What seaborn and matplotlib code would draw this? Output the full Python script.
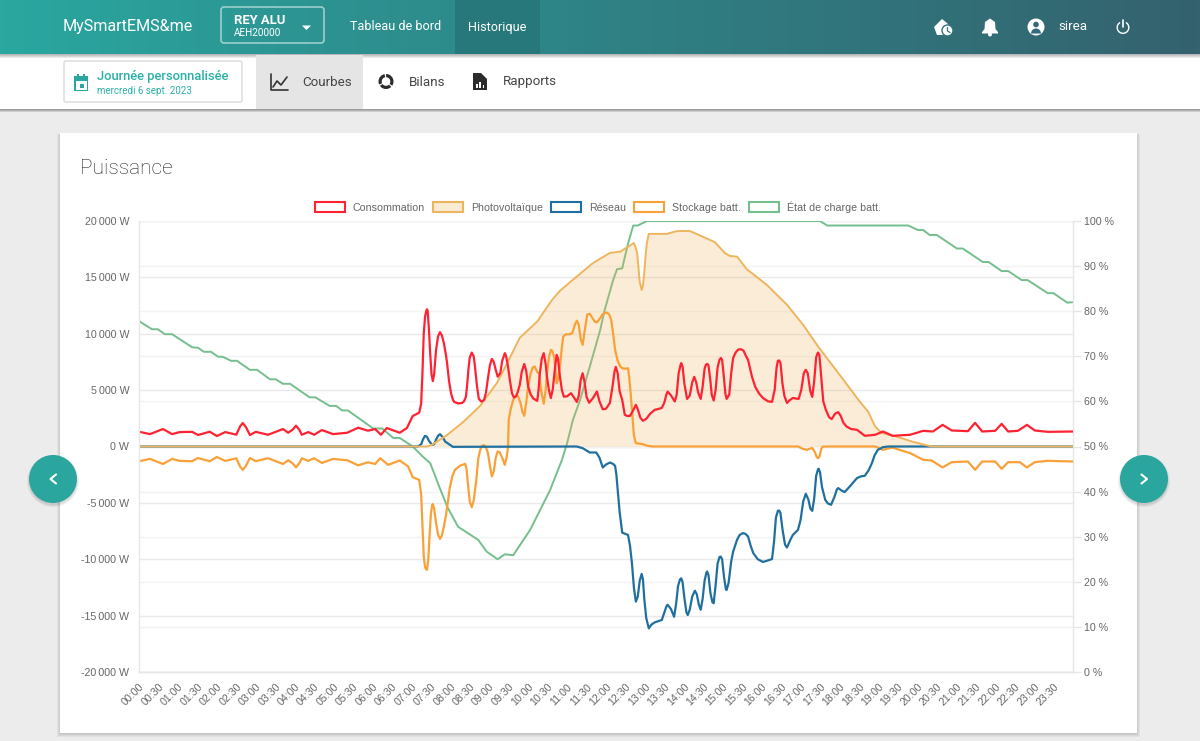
import numpy as np
import matplotlib
matplotlib.use('Agg')
import matplotlib.pyplot as plt
from matplotlib.patches import Rectangle, FancyBboxPatch, Circle, Polygon, Wedge, Patch
import seaborn as sns

# minutes since midnight / watts
conso_t = [0,17,37,51,63,82,91,109,120,133,150,156,160,165,171,180,199,222,230,237,242,247,251,261,270,282,299,321,338,353,364,373,382,402,413,422,432,435,437,439,441,443,444,445,447,449,451,453,455,458,461,464,467,470,473,475,478,481,484,486,492,498,501,504,506,508,510,513,516,518,521,524,528,532,535,538,541,544,547,550,553,557,560,564,566,569,572,575,578,581,584,587,590,594,597,600,604,608,614,616,618,621,624,627,629,632,635,638,641,644,646,649,652,655,660,666,670,675,678,681,684,687,690,694,700,706,710,715,720,726,730,733,735,738,741,745,749,753,757,761,766,769,773,777,782,788,795,799,806,810,813,815,820,826,829,832,835,836,838,841,845,849,853,856,859,862,866,869,872,874,876,878,881,883,886,889,892,895,897,899,902,904,906,910,913,916,920,924,928,932,936,939,945,950,956,962,970,976,980,983,985,987,989,992,995,999,1003,1008,1017,1021,1025,1028,1031,1035,1038,1041,1044,1046,1047,1049,1052,1055,1059,1064,1068,1073,1078,1082,1086,1091,1098,1107,1119,1135,1147,1162,1189,1209,1224,1239,1253,1278,1289,1300,1320,1330,1340,1355,1369,1381,1401,1440]
conso_w = [1310,1100,1550,1100,1280,1300,1020,1310,930,1280,1050,1800,2080,1700,1020,1300,1040,1550,1220,1500,1850,1500,1040,1280,1040,1460,1100,1220,1670,1400,1550,1040,1640,1220,1640,2700,3000,3800,6500,10000,11500,12050,12170,12050,10400,8200,6400,5800,6400,8560,9750,10140,9850,9180,8200,7400,5800,4750,4150,3950,3820,3860,4000,4400,5500,6900,7900,8330,8000,7080,5400,4210,3980,4130,4800,6060,7200,7770,7500,6800,6190,6500,7600,8280,8000,7060,5800,4730,4350,4420,4850,5450,6600,7320,6700,5310,4600,4250,4050,5000,6500,7800,8280,7300,6190,5000,4300,5100,6790,8130,7800,6190,5000,4420,4450,4730,4400,3950,4500,5900,6500,5700,4400,3880,4300,4880,4000,3300,3350,3860,5300,6600,7060,6500,4900,4130,2810,2700,2720,3100,3700,3300,2550,2280,2450,2900,3250,3300,3420,3900,4600,4870,4550,3990,4600,6500,7250,7400,7100,5500,4220,4500,5700,6180,5700,4800,4220,5300,6900,7250,7330,7200,5800,4600,4080,5000,7000,7700,7850,7700,6000,4700,4220,4600,6500,7850,8350,8600,8630,8500,8000,7690,6200,5300,4700,4300,4000,3960,5000,7000,7600,7630,7400,5600,4500,3860,4100,4300,4220,5000,6500,6800,6500,4900,4400,5800,7900,8250,8330,8100,6000,4000,3250,2600,2430,2900,3050,2700,2100,1770,1550,1480,950,1040,1330,950,1040,1390,1330,1920,1420,1360,2100,1330,1390,2010,1330,1390,1920,1420,1300,1330]

pv_t = [0,445,453,475,499,526,552,569,587,614,637,649,675,700,726,742,763,766,768,770,772,775,777,779,781,783,786,814,829,849,869,888,903,911,922,937,968,999,1024,1047,1081,1111,1124,1135,1145,1169,1193,1222,1440]
pv_w = [0,0,200,1020,2130,3610,5650,7540,9640,11090,13010,13810,15080,16270,17170,17280,18050,17600,17170,15900,14600,13880,14300,15390,16900,18050,18860,18860,19100,19120,18610,18120,17170,16900,16840,15730,14330,12570,10790,8870,6300,4000,3100,1770,1200,860,420,0,0]

reseau_t = [0,430,435,438,441,444,447,452,455,458,461,464,468,472,484,664,675,684,695,705,710,715,720,726,731,734,736,738,741,745,750,754,757,760,763,766,769,772,775,777,779,782,786,790,795,799,806,810,813,815,820,825,828,831,834,836,838,841,844,846,849,853,857,860,863,866,869,872,875,876,878,881,884,886,889,892,895,897,899,902,905,906,909,913,916,922,926,931,935,939,943,947,954,962,970,976,979,982,985,987,989,992,996,999,1004,1008,1016,1020,1024,1028,1032,1035,1038,1041,1044,1047,1048,1050,1053,1058,1062,1067,1072,1076,1078,1083,1088,1095,1107,1113,1119,1125,1130,1134,1139,1147,1155,1440]
reseau_w = [0,0,200,650,950,850,500,150,200,600,950,1090,850,440,-30,0,0,-150,-530,-530,-1000,-1860,-1600,-1420,-1550,-1710,-2500,-3840,-5800,-7640,-7750,-7850,-8800,-10350,-12500,-13760,-13300,-11900,-11300,-11800,-13500,-15200,-16130,-15800,-15600,-15520,-15390,-14700,-14200,-14040,-14400,-15100,-14000,-12400,-11800,-11690,-12000,-13500,-14700,-14950,-14500,-13300,-12790,-13100,-14000,-14480,-13500,-11900,-11150,-11090,-11400,-13000,-13800,-13900,-12300,-10400,-9800,-9770,-10000,-11600,-12700,-12720,-12100,-10200,-9330,-8280,-7850,-7680,-7750,-7980,-8800,-9450,-10000,-10240,-10100,-9980,-8500,-6300,-5700,-5680,-5900,-7300,-8700,-8960,-8300,-7850,-7390,-6500,-4900,-4190,-4700,-5500,-5710,-4600,-2600,-2000,-1980,-2300,-3600,-4730,-5050,-5170,-4500,-3800,-3690,-3900,-4040,-3600,-2800,-2650,-2600,-2100,-1470,-800,-300,-60,0,0]

stock_t = [0,17,37,51,63,82,91,109,120,133,150,156,160,165,171,180,199,222,230,237,242,247,251,261,270,282,299,321,338,353,364,372,384,402,415,422,432,435,437,439,441,443,444,446,448,450,452,453,455,458,461,464,467,470,473,476,479,483,487,495,503,505,507,510,513,516,520,523,526,529,532,535,538,541,544,547,550,553,556,560,564,567,569,570,573,577,580,584,588,591,594,597,600,604,607,610,614,617,620,624,627,629,632,635,637,640,642,644,646,649,652,654,658,663,668,672,675,678,681,684,687,691,695,699,703,706,710,715,721,725,728,731,734,738,742,745,750,754,756,758,761,763,766,771,777,784,791,1016,1023,1030,1034,1038,1042,1045,1047,1049,1052,1054,1060,1135,1147,1161,1189,1209,1222,1239,1253,1278,1289,1300,1320,1330,1340,1358,1369,1381,1401,1440]
stock_w = [-1310,-1100,-1550,-1100,-1280,-1300,-1020,-1310,-930,-1280,-1050,-1800,-2080,-1700,-1020,-1300,-1040,-1550,-1220,-1500,-1850,-1500,-1040,-1280,-1040,-1460,-1100,-1220,-1670,-1400,-1550,-1040,-1630,-1240,-1770,-2730,-2960,-4200,-7000,-9700,-10700,-10900,-10930,-10000,-7900,-6000,-5200,-5100,-5500,-6790,-7800,-8190,-7900,-7110,-6200,-5010,-3700,-2660,-2070,-1700,-1540,-2000,-3260,-4900,-5390,-4800,-2960,-1100,-300,50,130,-100,-590,-1700,-2660,-2200,-1000,-440,-500,-1000,-1630,-900,0,2370,3300,4140,4450,4490,3900,3100,2720,3900,5320,6500,7000,7100,6600,6500,5000,3790,5000,6500,7900,8570,8500,7970,6900,5600,5900,7100,8800,9750,9950,9950,10040,10800,11160,10800,9500,9020,10200,11700,11770,11400,11050,11000,11300,11750,11880,11700,11240,10000,8570,7600,7100,6940,6900,6940,6000,4730,2500,1000,300,250,200,60,0,0,-200,-300,-200,-130,-500,-950,-1040,-900,-200,-20,0,0,-300,-90,-590,-1180,-1240,-1860,-1390,-1330,-2070,-1330,-1330,-1980,-1390,-1390,-1860,-1390,-1270,-1330]

soc_t = [0,20,29,40,51,82,91,100,111,122,129,142,151,171,182,202,211,222,233,263,272,294,304,313,322,361,375,392,402,422,438,449,464,476,492,523,536,553,564,577,603,634,652,660,669,680,695,711,718,731,737,745,754,762,769,783,1050,1061,1186,1201,1209,1219,1230,1261,1270,1301,1310,1330,1340,1361,1370,1401,1410,1431,1440]
soc_pct = [77.8,76,76,74.9,74.9,72,71.9,71,71,69.9,69.9,69,69,67,67,64.9,64.9,63.9,63.9,60.9,60.9,59,59,58,58,54,54,51.9,51.9,50,47.7,46.3,40.7,36.4,32.2,29.3,26.7,25,26.1,25.9,31.5,40.4,47,50.7,55.9,60.3,67.7,75.8,80.3,86.9,89.3,89.5,95,99,99,100,100,99,99,98,98,96.9,96.9,93.9,93.9,90.9,90.9,88.9,88.9,86.9,86.9,84,84,81.9,82]

left_ticks = [-20000,-15000,-10000,-5000,0,5000,10000,15000,20000]
left_labels = ['-20\u2009000 W','-15\u2009000 W','-10\u2009000 W','-5\u2009000 W','0 W','5\u2009000 W','10\u2009000 W','15\u2009000 W','20\u2009000 W']
right_ticks = [0,10,20,30,40,50,60,70,80,90,100]
right_labels = ['%d %%' % v for v in right_ticks]
time_ticks = list(range(0, 1440, 30))
time_labels = ['%02d:%02d' % (m // 60, m % 60) for m in time_ticks]

RED = '#FF2233'
PV = '#EDB55E'
BLUE = '#20709F'
ORANGE = '#F9A138'
GREEN = '#75BE8D'
TEAL = '#2BA69F'
GREY = '#666666'

sns.set_theme(style='white')
plt.rcParams['font.family'] = ['Liberation Sans', 'DejaVu Sans']

W, H = 1200, 741
fig = plt.figure(figsize=(12, 7.41), dpi=100, facecolor='#ECECEC')

# page furniture, drawn in pixel coordinates
bg = fig.add_axes([0, 0, 1, 1], zorder=0)
bg.set_axis_off()
c0 = np.array(matplotlib.colors.to_rgb('#2AA7A0'))
c1 = np.array(matplotlib.colors.to_rgb('#2F8285'))
c2 = np.array(matplotlib.colors.to_rgb('#34626E'))
xs = np.linspace(0, 1, 300)[:, None]
grad = np.where(xs < 0.5, c0 + (c1 - c0) * xs * 2, c1 + (c2 - c1) * (xs - 0.5) * 2)
bg.imshow(grad[None, :, :].reshape(1, 300, 3), extent=[0, W, 54, 0], aspect='auto', zorder=3)
bg.set_xlim(0, W)
bg.set_ylim(H, 0)


def rect(x0, y0, x1, y1, color, z=2, alpha=None):
    bg.add_patch(Rectangle((x0, y0), x1 - x0, y1 - y0, fc=color, ec='none', zorder=z, alpha=alpha))


def label(x, y, s, size, color='white', weight='normal', family='Roboto', ha='left'):
    bg.text(x, y, s, fontsize=size, color=color, fontweight=weight, family=family, ha=ha, va='center', zorder=8)


# header + sub header with their shadows
for i in range(4):
    rect(0, 54, W, 54 + i + 1, '#000000', z=2.5, alpha=0.08)
rect(0, 54, W, 109, 'white', z=2)
for i in range(3):
    rect(0, 109, W, 109 + i + 1, '#000000', z=1.5, alpha=0.13)
rect(455, 0, 540, 54, '#27787A', z=4)
rect(256, 55, 363, 109, '#E5E5E5', z=3)

# card
for i in range(4):
    bg.add_patch(Rectangle((60 - i, 134), 1077 + 2 * i, 600 + i, fc='#000000', ec='none', alpha=0.045, zorder=1))
rect(60, 133, 1137, 733, 'white', z=1.2)

# header content
label(63, 26, 'MySmartEMS&me', 11.6)
bg.add_patch(FancyBboxPatch((221, 7), 103, 36, boxstyle='round,pad=0,rounding_size=3', fc='none', ec='#9CCFCD', lw=1.2, zorder=5))
label(234, 20, 'REY ALU', 9.4, weight='bold')
label(234, 32.5, 'AEH20000', 7.2)
bg.add_patch(Polygon([[302, 25.5], [311, 25.5], [306.5, 30]], fc='white', ec='none', zorder=6))
label(350, 27, 'Tableau de bord', 9.1)
label(468, 27, 'Historique', 9.1)
label(1058, 27, 'sirea', 9.6)

# home with clock
bg.add_patch(Polygon([[934, 27], [942, 19], [947, 23], [950, 27], [948, 35], [937, 35]], fc='white', ec='none', zorder=6))
bg.add_patch(Circle((947.5, 30.5), 5.5, fc='white', ec='#34727A', lw=1, zorder=7))
bg.plot([947.5, 947.5, 950], [27.5, 31, 32.5], color='#34727A', lw=0.9, zorder=8)
# bell
bg.add_patch(Polygon([[982, 32], [984.5, 29], [985, 22], [990, 18.5], [995, 22], [995.5, 29], [998, 32], [998, 33.5], [982, 33.5]], fc='white', ec='none', zorder=6))
bg.add_patch(Circle((990, 34.5), 2, fc='white', ec='none', zorder=6))
# user
bg.add_patch(Circle((1036, 27), 8.5, fc='white', ec='none', zorder=6))
bg.add_patch(Circle((1036, 24.5), 2.8, fc='#33697A', ec='none', zorder=7))
bg.add_patch(Wedge((1036, 33.5), 5, 180, 360, fc='#33697A', ec='none', zorder=7))
# power
bg.add_patch(Wedge((1123, 27.5), 6.5, 300, 240, width=1.4, fc='white', ec='none', zorder=6))
bg.plot([1123, 1123], [20, 27], color='white', lw=1.2, zorder=7)

# date picker
bg.add_patch(FancyBboxPatch((64, 61), 178, 41, boxstyle='round,pad=0,rounding_size=2', fc='white', ec='#E0E0E0', lw=1.2, zorder=3))
rect(74, 76, 88, 91, TEAL, z=4)
rect(75.5, 81, 86.5, 89.5, 'white', z=4.2)
rect(80, 84, 84, 88, TEAL, z=4.3)
rect(77, 74, 79, 77, TEAL, z=4)
rect(83, 74, 85, 77, TEAL, z=4)
label(97, 76.5, 'Journée personnalisée', 9.4, color='#2BB0A8', weight='medium')
label(97, 91, 'mercredi 6 sept. 2023', 7.0, color='#2BB0A8')

# sub tabs
bg.plot([271, 271, 288], [74, 90, 90], color='#333333', lw=1.2, zorder=5)
bg.plot([273, 277, 281, 287], [87, 81, 85, 77], color='#333333', lw=1.2, zorder=5)
label(302, 82, 'Courbes', 9.6, color='#444444')
bg.add_patch(Wedge((386, 81.5), 7.5, 0, 360, width=3.2, fc='#2C2C2C', ec='none', zorder=5))
for a in (40, 150, 265):
    bg.add_patch(Wedge((386, 81.5), 9, a - 6, a + 6, fc='white', ec='none', zorder=6))
label(409, 82, 'Bilans', 9.6, color='#444444')
bg.add_patch(Polygon([[473, 73], [481, 73], [487, 79], [487, 90], [473, 90]], fc='#2C2C2C', ec='none', zorder=5))
rect(476, 84, 477.5, 88, 'white', z=6)
rect(479.3, 82, 480.8, 88, 'white', z=6)
rect(482.6, 85, 484.1, 88, 'white', z=6)
label(503, 82, 'Rapports', 9.6, color='#444444')

label(80, 168, 'Puissance', 15, color='#222222', weight='light')

# round nav buttons
for cx, a, b in ((53, 56, 50.5), (1144, 1141.5, 1147)):
    for i in range(3):
        bg.add_patch(Circle((cx, 481), 24 + i, fc='#000000', ec='none', alpha=0.05, zorder=9))
    bg.add_patch(Circle((cx, 479), 24, fc=TEAL, ec='none', zorder=10))
    bg.plot([a, b, a], [474.5, 479, 483.5], color='white', lw=1.5, zorder=11)

# chart: grid axes at the back, then % axes, then watt axes on top
box = [139 / W, 1 - 672 / H, (1073 - 139) / W, (672 - 221) / H]
ax0 = fig.add_axes(box, zorder=1)
ax2 = fig.add_axes(box, zorder=2)
ax = fig.add_axes(box, zorder=3)
ax0.patch.set_alpha(0)
ax.patch.set_alpha(0)
ax2.patch.set_alpha(0)

ax0.set_xlim(0, 1440)
ax0.set_ylim(-20000, 20000)
ax0.set_yticks(left_ticks)
ax0.set_xticks([])
ax0.tick_params(axis='y', length=0, labelleft=False)
ax0.grid(axis='y', color='#E9E9E9', lw=1)
for side in ax0.spines:
    ax0.spines[side].set_visible(False)

sns.lineplot(x=soc_t, y=soc_pct, ax=ax2, color=GREEN, lw=1.4, estimator=None, sort=False)
ax.fill_between(pv_t, pv_w, 0, color=PV, alpha=0.25, lw=0)
sns.lineplot(x=stock_t, y=stock_w, ax=ax, color=ORANGE, lw=1.6, estimator=None, sort=False)
sns.lineplot(x=reseau_t, y=reseau_w, ax=ax, color=BLUE, lw=1.6, estimator=None, sort=False)
sns.lineplot(x=pv_t, y=pv_w, ax=ax, color=PV, lw=1.4, estimator=None, sort=False)
sns.lineplot(x=conso_t, y=conso_w, ax=ax, color=RED, lw=1.6, estimator=None, sort=False)

ax.set_xlim(0, 1440)
ax.set_ylim(-20000, 20000)
ax2.set_xlim(0, 1440)
ax2.set_ylim(0, 100)

ax.set_yticks(left_ticks)
ax.set_yticklabels(left_labels)
ax.set_xticks(time_ticks)
ax.set_xticklabels(time_labels, rotation=45, ha='right', rotation_mode='anchor')
ax.tick_params(axis='y', length=6, color='#E6E6E6', labelsize=7.7, labelcolor=GREY, pad=1, width=1)
ax.tick_params(axis='x', length=0, labelsize=7.7, labelcolor=GREY, pad=7)
ax.set_xlabel('')
ax.set_ylabel('')

ax2.yaxis.tick_right()
ax2.set_yticks(right_ticks)
ax2.set_yticklabels(right_labels)
ax2.set_xticks([])
ax2.grid(axis='y', color='#F3F3F3', lw=1)
ax2.set_axisbelow(True)
ax2.tick_params(axis='y', length=6, color='#E6E6E6', labelsize=7.7, labelcolor=GREY, pad=2, width=1)
ax2.set_xlabel('')
ax2.set_ylabel('')

for a in (ax, ax2):
    for side in a.spines:
        a.spines[side].set_color('#E6E6E6')
        a.spines[side].set_linewidth(1)
ax.spines['top'].set_visible(False)
ax.spines['right'].set_visible(False)
ax2.spines['top'].set_visible(False)
ax2.spines['left'].set_visible(False)

handles = [
    Patch(fc='white', ec=RED, lw=1.5, label='Consommation'),
    Patch(fc='#FAEBD3', ec=PV, lw=1.5, label='Photovoltaïque'),
    Patch(fc='white', ec=BLUE, lw=1.5, label='Réseau'),
    Patch(fc='white', ec=ORANGE, lw=1.5, label='Stockage batt.'),
    Patch(fc='white', ec=GREEN, lw=1.5, label='État de charge batt.'),
]
ax.legend(handles=handles, ncol=5, frameon=False, loc='center', bbox_to_anchor=(598 / W, 1 - 207 / H),
          bbox_transform=fig.transFigure, fontsize=7.7, labelcolor=GREY, handlelength=2.8, handleheight=0.95,
          handletextpad=0.75, columnspacing=0.75, borderpad=0)

fig.savefig('out.png', dpi=100, facecolor=fig.get_facecolor())
